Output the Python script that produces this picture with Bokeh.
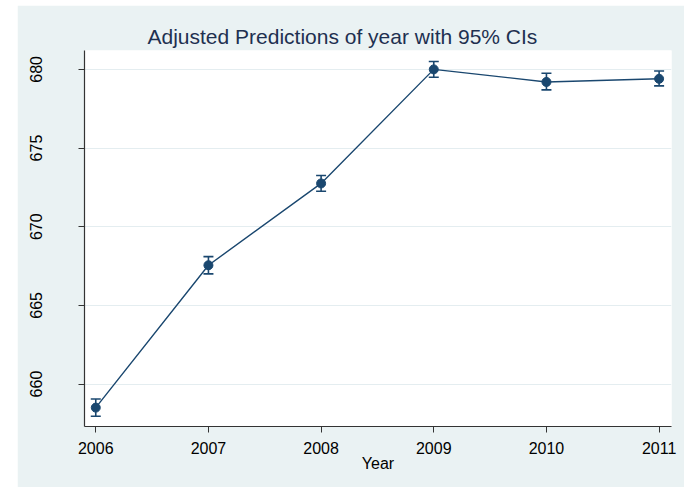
from bokeh.plotting import figure
from bokeh.models import ColumnDataSource, Whisker, TeeHead, Range1d, FixedTicker, Spacer
from bokeh.layouts import column, row
from bokeh.embed import file_html
from bokeh.resources import INLINE

# Adjusted predictions (margins) by year with 95% confidence limits
years = [2006, 2007, 2008, 2009, 2010, 2011]
margin = [658.5, 667.55, 672.75, 680.0, 679.2, 679.4]
ci_lower = [657.95, 667.0, 672.25, 679.5, 678.7, 678.95]
ci_upper = [659.05, 668.1, 673.25, 680.5, 679.75, 679.9]
y_ticks = [660, 665, 670, 675, 680]

NAVY = "#1A476F"
REGION = "#EAF2F3"
FONT = "Liberation Sans"

src = ColumnDataSource(dict(year=years, margin=margin, lo=ci_lower, hi=ci_upper))

p = figure(
    width=667, height=482,
    x_range=Range1d(2005.9, 2011.11), y_range=Range1d(657.3, 681.2),
    output_backend="svg", toolbar_location=None,
    min_border_left=67, min_border_right=13, min_border_top=45, min_border_bottom=61,
    title="Adjusted Predictions of year with 95% CIs",
)
p.background_fill_color = "white"
p.border_fill_color = REGION
p.outline_line_color = None

# title sits centred over the whole graph region rather than the plot frame
p.title.align = "left"
p.title.offset = 63
p.title.text_font = FONT
p.title.text_font_size = "21px"
p.title.text_font_style = "normal"
p.title.text_color = "#1E3050"
p.title.standoff = 5

# grid
p.xgrid.grid_line_color = None
p.ygrid.grid_line_color = "#E4EDF0"
p.ygrid.grid_line_width = 1.2
p.yaxis.ticker = FixedTicker(ticks=y_ticks)
p.xaxis.ticker = FixedTicker(ticks=years)

for ax in (p.xaxis[0], p.yaxis[0]):
    ax.axis_line_color = "#333333"
    ax.axis_line_width = 1.2
    ax.major_tick_line_color = "#333333"
    ax.major_tick_out = 6
    ax.major_tick_in = 0
    ax.minor_tick_line_color = None
    ax.major_label_text_font = FONT
    ax.major_label_text_font_size = "16px"
    ax.major_label_text_color = "black"

p.yaxis.major_label_orientation = "vertical"
p.yaxis.major_label_standoff = 36
p.xaxis.major_label_standoff = 9
p.xaxis.axis_label = "Year"
p.xaxis.axis_label_text_font = FONT
p.xaxis.axis_label_text_font_size = "16px"
p.xaxis.axis_label_text_font_style = "normal"
p.xaxis.axis_label_text_color = "black"
p.xaxis.axis_label_standoff = -2

# confidence intervals
p.add_layout(Whisker(
    source=src, base="year", lower="lo", upper="hi",
    line_color=NAVY, line_width=1.6,
    lower_head=TeeHead(size=10, line_color=NAVY, line_width=1.6),
    upper_head=TeeHead(size=10, line_color=NAVY, line_width=1.6),
))

p.line("year", "margin", source=src, line_color=NAVY, line_width=1.4)
p.scatter("year", "margin", source=src, size=9, fill_color=NAVY, line_color=NAVY)

layout = column(Spacer(height=5), row(Spacer(width=17), p))
open("out.html", "w").write(file_html(layout, INLINE))
